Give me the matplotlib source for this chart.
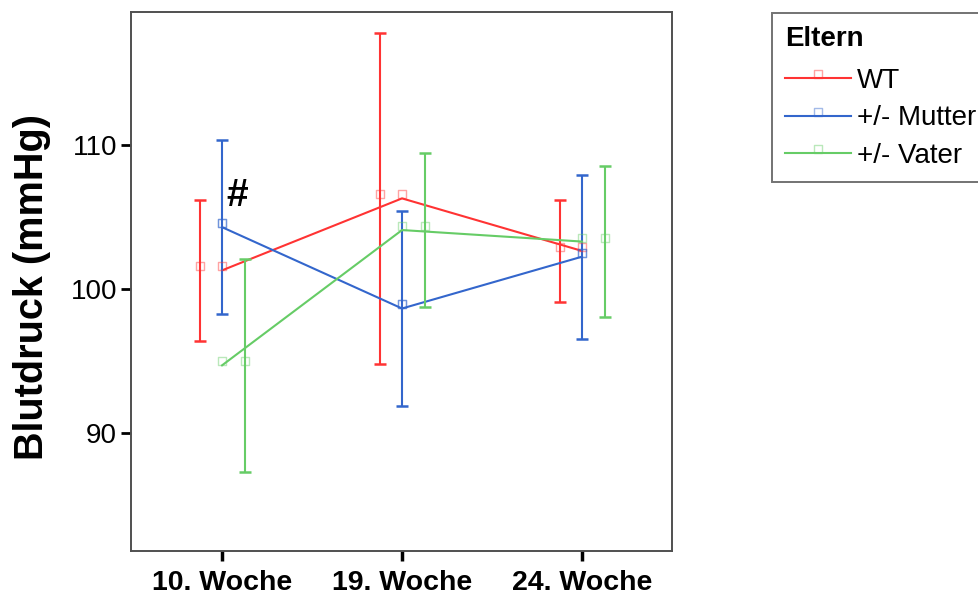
import matplotlib
matplotlib.use("Agg")
import matplotlib.pyplot as plt
from matplotlib.path import Path
from matplotlib.lines import Line2D
from matplotlib.colors import to_rgba
import numpy as np

plt.rcParams["font.family"] = ["Liberation Sans", "DejaVu Sans"]

# Measurement weeks and parental genotype groups
weeks = ["10. Woche", "19. Woche", "24. Woche"]
groups = ["WT", "+/- Mutter", "+/- Vater"]

# Mean blood pressure (mmHg) and 95% CI half-widths per group
wt_mean = [101.3, 106.3, 102.65]
wt_ci = [4.9, 11.5, 3.55]
mutter_mean = [104.3, 98.65, 102.25]
mutter_ci = [6.05, 6.8, 5.7]
vater_mean = [94.7, 104.1, 103.3]
vater_ci = [7.4, 5.35, 5.25]

means = [wt_mean, mutter_mean, vater_mean]
cis = [wt_ci, mutter_ci, vater_ci]
colors = ["#ff3333", "#3366cc", "#66cc66"]
dodge = [-0.122, 0.0, 0.13]

# Square marker whose bottom edge sits on the data point
square = Path([(-0.5, 0), (0.5, 0), (0.5, 1), (-0.5, 1), (-0.5, 0)],
              [Path.MOVETO, Path.LINETO, Path.LINETO, Path.LINETO, Path.CLOSEPOLY])

fig = plt.figure(figsize=(9.79, 5.99), dpi=100)
ax = fig.add_axes([131 / 979, 1 - 551 / 599, 541 / 979, 539 / 599])

x = np.arange(len(weeks))
for m, c, col, off in zip(means, cis, colors, dodge):
    pale = to_rgba(col, 0.45)
    ax.plot(x, m, color=col, lw=1.5, zorder=3)
    ax.errorbar(x + off, m, yerr=c, fmt="none", ecolor=col, elinewidth=1.5,
                capsize=4.5, capthick=1.8, zorder=3)
    ax.plot(x, m, ls="none", marker=square, markersize=11.5,
            mfc="none", mec=pale, mew=1.0, zorder=4)
    ax.plot(x + off, m, ls="none", marker=square, markersize=11.5,
            mfc="none", mec=pale, mew=1.0, zorder=4)

ax.text(0.085, 106.45, "#", fontsize=28, fontweight="heavy",
        ha="center", va="center", zorder=5)

ax.set_xlim(-0.506, 2.5)
ax.set_ylim(81.8, 119.25)
ax.set_xticks(x)
ax.set_xticklabels(weeks, fontsize=20.5, fontweight="bold")
ax.set_yticks([90, 100, 110])
ax.tick_params(axis="y", labelsize=20, length=7, width=2, color="black", pad=3)
ax.tick_params(axis="x", length=7.5, width=2.5, color="black", pad=6)
ax.set_ylabel("Blutdruck (mmHg)", fontsize=28.5, fontweight="bold")
ax.yaxis.set_label_coords(-0.147, 0.49)

for s in ax.spines.values():
    s.set_color("#505050")
    s.set_linewidth(1.4)

handles = [Line2D([], [], color=col, lw=1.5, marker=square, markersize=11.5,
                  mfc="none", mec=to_rgba(col, 0.45), mew=1.0)
           for col in colors]
leg = fig.legend(handles, groups, title="Eltern", loc="upper left",
                 bbox_to_anchor=(772 / 979, 1 - 13 / 599),
                 bbox_transform=fig.transFigure, frameon=True, fancybox=False,
                 edgecolor="#505050", prop={"size": 20},
                 title_fontproperties={"size": 20, "weight": "bold"},
                 alignment="left", handlelength=2.35, handletextpad=0.22,
                 borderaxespad=0, borderpad=0.48, labelspacing=0.41,
                 numpoints=1)
leg._legend_box.sep += 3
leg.get_frame().set_linewidth(1.4)

fig.savefig("out.png", dpi=100)
